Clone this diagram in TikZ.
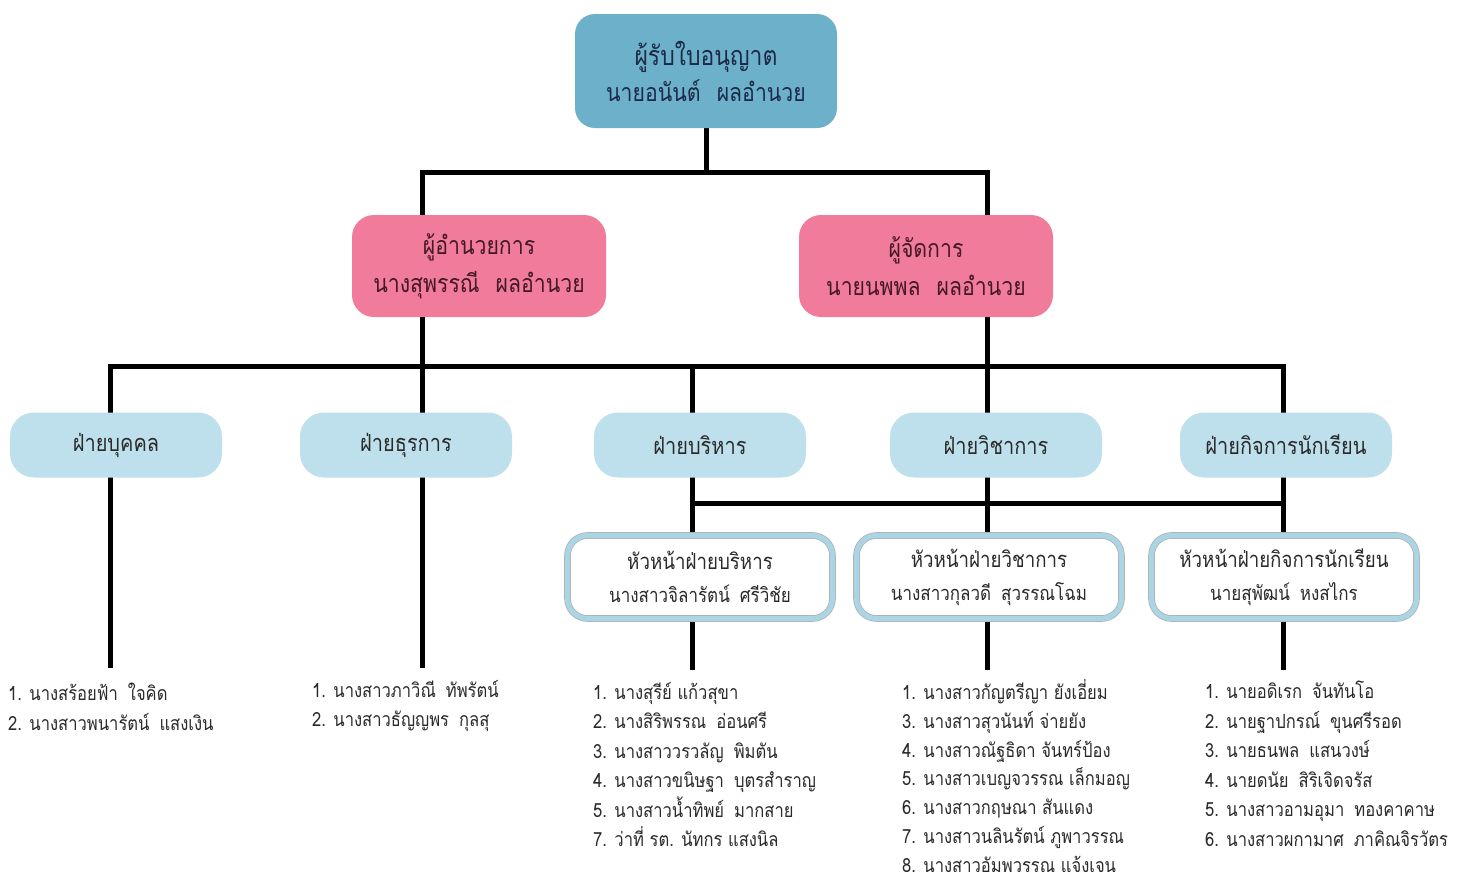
\documentclass[tikz,border=0pt]{standalone}
\usepackage{fontspec}
\newfontfamily\thai[Script=Thai,FakeStretch=0.85]{Loma}
\usetikzlibrary{backgrounds}
\definecolor{topblue}{HTML}{6CB1C9}
\definecolor{pinkbox}{HTML}{F07B9B}
\definecolor{lightbox}{HTML}{BDE0EC}
\definecolor{headring}{HTML}{AAD5E5}
\definecolor{toptext}{HTML}{1C2A48}
\definecolor{pinktext}{HTML}{451826}
\definecolor{bodytext}{HTML}{2A2A2A}
\begin{document}
\begin{tikzpicture}[x=1pt,y=-1pt,
  topbox/.style={fill=topblue,rounded corners=20pt,minimum width=262pt,minimum height=114pt,align=center,text=toptext,inner sep=0pt,font=\thai\fontsize{27}{36}\selectfont},
  pinkbox/.style={fill=pinkbox,rounded corners=22pt,minimum width=254pt,minimum height=102pt,align=center,text=pinktext,inner sep=0pt,font=\thai\fontsize{25}{38}\selectfont},
  deptbox/.style={fill=lightbox,rounded corners=24pt,minimum width=212pt,minimum height=65pt,align=center,text=bodytext,inner sep=0pt,font=\thai\fontsize{23.5}{30}\selectfont},
  headbox/.style={fill=white,draw=gray!60,double=headring,double distance=5pt,line width=0.8pt,rounded corners=20pt,minimum width=265pt,minimum height=83pt,align=center,text=bodytext,inner sep=0pt,font=\thai\fontsize{22}{33}\selectfont},
  listbox/.style={anchor=north west,align=left,inner sep=0pt,text=bodytext,font=\thai\fontsize{19.5}{29.5}\selectfont},
  conn/.style={line width=5pt,black}]
\useasboundingbox (0,0) rectangle (1467,881);

% boxes
\node[topbox] (top) at (706,71) {ผู้รับใบอนุญาต\\\fontsize{25}{36}\selectfont นายอนันต์\hspace{16pt}ผลอำนวย};
\node[pinkbox] (dir) at (479,266) {ผู้อำนวยการ\\นางสุพรรณี\hspace{16pt}ผลอำนวย};
\node[pinkbox] (mgr) at (926,266) {ผู้จัดการ\\นายนพพล\hspace{16pt}ผลอำนวย};

\node[deptbox] (d1) at (116,445) {ฝ่ายบุคคล};
\node[deptbox] (d2) at (406,445) {ฝ่ายธุรการ};
\node[deptbox] (d3) at (700,445) {ฝ่ายบริหาร};
\node[deptbox] (d4) at (996,445) {ฝ่ายวิชาการ};
\node[deptbox] (d5) at (1286,445) {ฝ่ายกิจการนักเรียน};

\node[headbox] (h3) at (700,577) {หัวหน้าฝ่ายบริหาร\\\fontsize{20}{33}\selectfont นางสาวจิลารัตน์\hspace{10pt}ศรีวิชัย};
\node[headbox] (h4) at (989,577) {หัวหน้าฝ่ายวิชาการ\\\fontsize{20}{33}\selectfont นางสาวกุลวดี\hspace{10pt}สุวรรณโฉม};
\node[headbox] (h5) at (1284,577) {หัวหน้าฝ่ายกิจการนักเรียน\\\fontsize{20}{33}\selectfont นายสุพัฒน์\hspace{10pt}หงสไกร};

% lists
\node[listbox] (l1) at (8,683) {1. นางสร้อยฟ้า\hspace{10pt}ใจคิด\\2. นางสาวพนารัตน์\hspace{10pt}แสงเงิน};
\node[listbox] (l2) at (312,680) {1. นางสาวภาวิณี\hspace{10pt}ทัพรัตน์\\2. นางสาวธัญญพร\hspace{10pt}กุลสุ};
\node[listbox] (l3) at (593,682) {1. นางสุรีย์ แก้วสุขา\\2. นางสิริพรรณ\hspace{10pt}อ่อนศรี\\3. นางสาววรวลัญ\hspace{10pt}พิมตัน\\4. นางสาวขนิษฐา\hspace{10pt}บุตรสำราญ\\5. นางสาวน้ำทิพย์\hspace{10pt}มากสาย\\7. ว่าที่ รต. นัทกร แสงนิล};
\node[listbox,font=\thai\fontsize{19.5}{28.9}\selectfont] (l4) at (902,679) {1. นางสาวกัญตรีญา ยังเอี่ยม\\3. นางสาวสุวนันท์ จ่ายยัง\\4. นางสาวณัฐธิดา จันทร์ป้อง\\5. นางสาวเบญจวรรณ เล็กมอญ\\6. นางสาวกฤษณา สันแดง\\7. นางสาวนลินรัตน์ ภูพาวรรณ\\8. นางสาวอัมพวรรณ แจ้งเจน};
\node[listbox] (l5) at (1205,681) {1. นายอดิเรก\hspace{10pt}จันทันโอ\\2. นายฐาปกรณ์\hspace{10pt}ขุนศรีรอด\\3. นายธนพล\hspace{10pt}แสนวงษ์\\4. นายดนัย\hspace{10pt}สิริเจิดจรัส\\5. นางสาวอามอุมา\hspace{10pt}ทองคาคาษ\\6. นางสาวผกามาศ\hspace{10pt}ภาคิณจิรวัตร};

% junction coordinates
\coordinate (ja) at (422,172);
\coordinate (jb) at (987,172);
\coordinate (r1) at (110,366);
\coordinate (r2) at (422,366);
\coordinate (r3) at (692,366);
\coordinate (r4) at (987,366);
\coordinate (r5) at (1283,366);
\coordinate (s3) at (692,503);
\coordinate (s5) at (1283,503);
\coordinate (e1) at (110,668);
\coordinate (e2) at (422,668);
\coordinate (e3) at (692,670);
\coordinate (e4) at (987,670);
\coordinate (e5) at (1283,670);

\begin{pgfonlayer}{background}
\draw[conn] (top.south) -- (top.south |- ja);
\draw[conn,line cap=rect] (ja) -- (jb);
\draw[conn] (ja) -- (r2);
\draw[conn] (jb) -- (r4);
\draw[conn,line cap=rect] (r1) -- (r5);
\draw[conn] (r1) -- (e1);
\draw[conn] (r2) -- (e2);
\draw[conn] (r3) -- (e3);
\draw[conn] (r4) -- (e4);
\draw[conn] (r5) -- (e5);
\draw[conn] (s3) -- (s5);
\end{pgfonlayer}
\end{tikzpicture}
\end{document}
